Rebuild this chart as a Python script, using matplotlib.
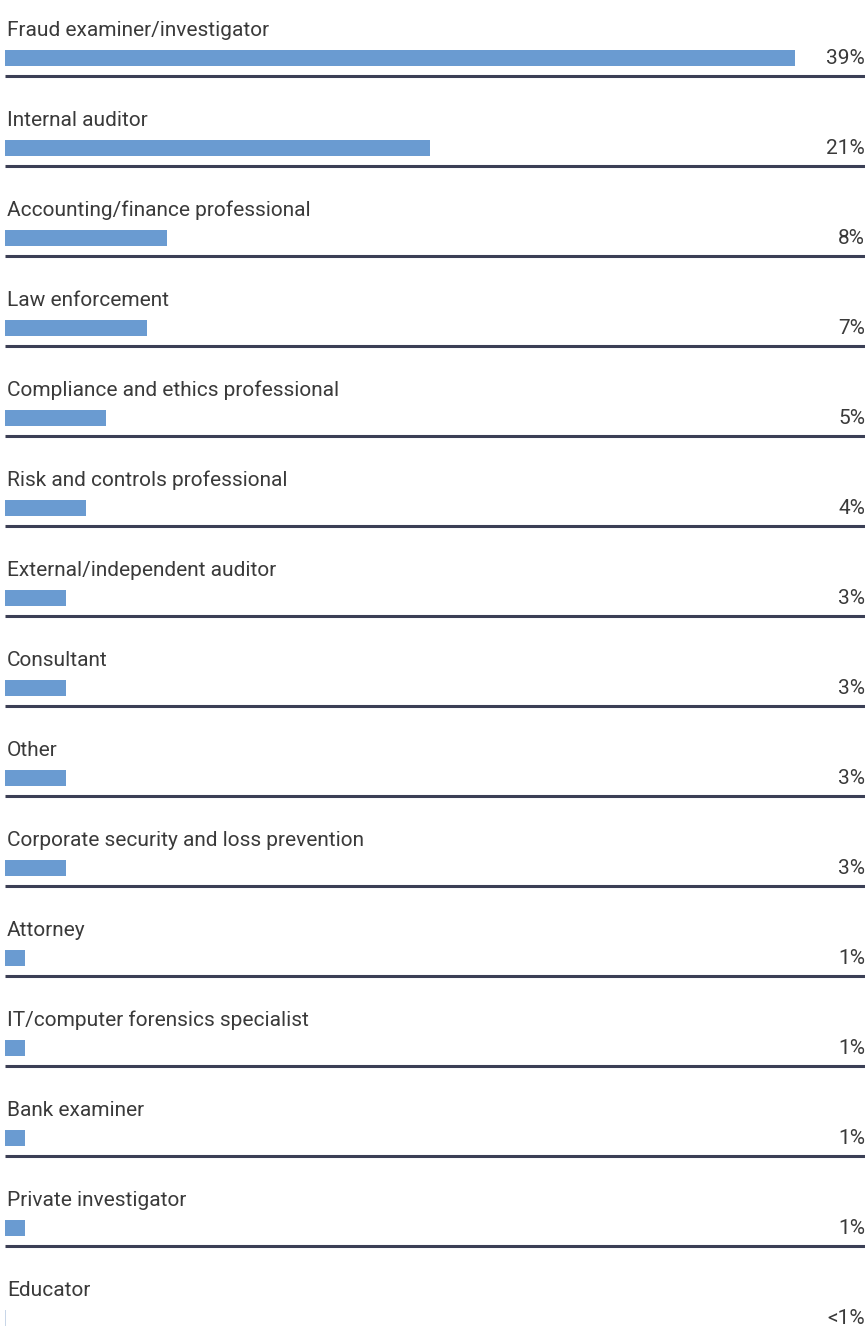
import matplotlib
matplotlib.use("Agg")
import matplotlib.pyplot as plt

categories = [
    "Fraud examiner/investigator",
    "Internal auditor",
    "Accounting/finance professional",
    "Law enforcement",
    "Compliance and ethics professional",
    "Risk and controls professional",
    "External/independent auditor",
    "Consultant",
    "Other",
    "Corporate security and loss prevention",
    "Attorney",
    "IT/computer forensics specialist",
    "Bank examiner",
    "Private investigator",
    "Educator",
]
values = [39, 21, 8, 7, 5, 4, 3, 3, 3, 3, 1, 1, 1, 1, 0.05]
value_labels = ["39%", "21%", "8%", "7%", "5%", "4%", "3%", "3%", "3%", "3%",
                "1%", "1%", "1%", "1%", "<1%"]

W, H = 867, 1335
fig = plt.figure(figsize=(W / 100, H / 100), dpi=100)
ax = fig.add_axes([5 / W, 0, 860 / W, 1])

px_per_pct = 790 / 39.0
row_h = 90.0
first_bar_px = 58
ax.set_xlim(0, 860 / px_per_pct)
ax.set_ylim((H - first_bar_px) / row_h, -first_bar_px / row_h)
ax.axis("off")

bar_color = "#6a9bd1"
text_color = "#3a3a3a"
line_color = "#3b3f55"
font = "Roboto"

n = len(categories)
ys = list(range(n))
colors = [bar_color] * (n - 1) + ["#c8d6e8"]
ax.barh(ys, values, height=16 / row_h, color=colors, align="center")

for i, (cat, lab) in enumerate(zip(categories, value_labels)):
    ax.text(0.1, i - 0.31, cat, ha="left", va="center", fontsize=15,
            color=text_color, family=font)
    ax.text(1.0, i + 0.01, lab, transform=ax.get_yaxis_transform(),
            ha="right", va="center", fontsize=15, color=text_color, family=font)
    if i < n - 1:
        ax.plot([0, 1], [i + 0.2, i + 0.2], transform=ax.get_yaxis_transform(),
                color=line_color, lw=2.2, solid_capstyle="butt")

fig.savefig("out.png", dpi=100, facecolor="white")
